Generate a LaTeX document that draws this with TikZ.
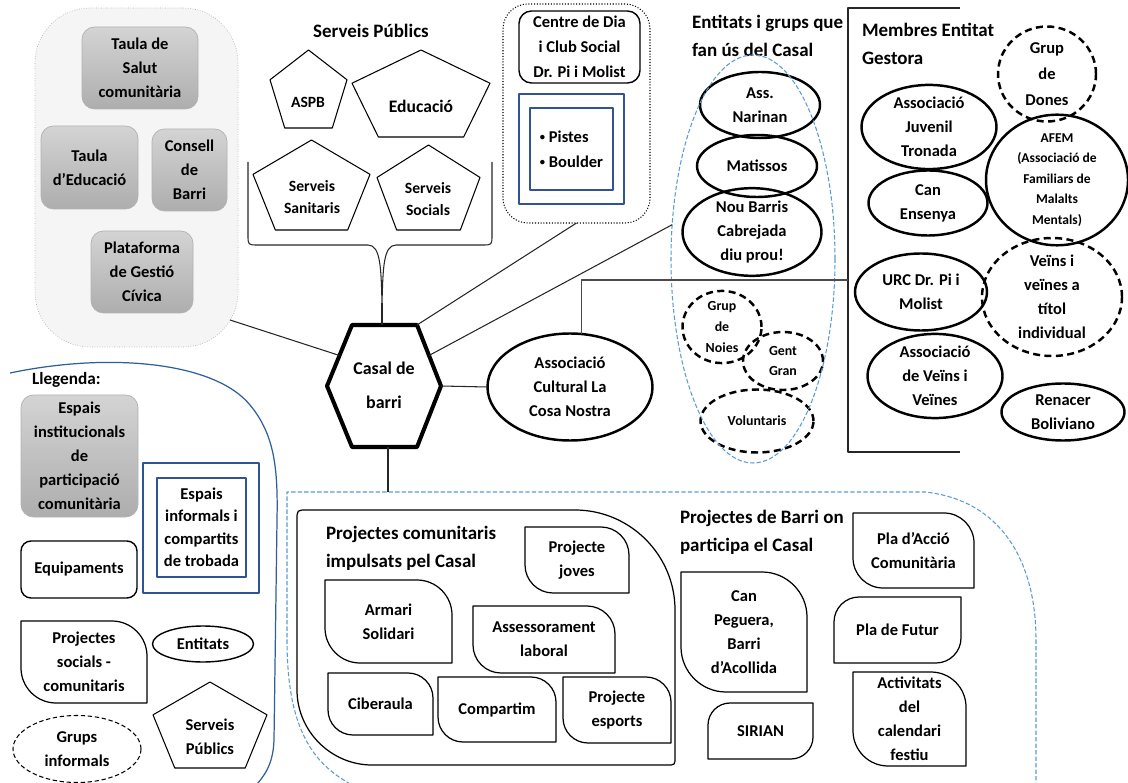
\documentclass[tikz,border=0pt]{standalone}
\usepackage{fontspec}
\setmainfont{Carlito}
\usetikzlibrary{shapes.geometric,calc}
\def\pxu{0.02cm}
\def\bodyfont{\bfseries\fontsize{9.4}{13.6}\selectfont}
\def\titlefont{\bfseries\fontsize{10.8}{16}\selectfont}
\def\smallfont{\bfseries\fontsize{7.9}{11.9}\selectfont}
\newcommand{\smallbullet}{{\fontsize{6}{6}\selectfont\raisebox{0.25ex}{•}}}
\definecolor{navy}{RGB}{47,84,150}
\definecolor{legendblue}{RGB}{46,95,154}
\definecolor{dashblue}{RGB}{91,155,213}

% box with rounded top right and bottom left corners
\newcommand{\leafA}[2]{%
  \draw[leafline] (#1.north west) -- ($(#1.north east)+(-#2,0)$)
    .. controls ($(#1.north east)+(-0.45*#2,0)$) and ($(#1.north east)+(0,0.45*#2)$) .. ($(#1.north east)+(0,#2)$)
    -- (#1.south east) -- ($(#1.south west)+(#2,0)$)
    .. controls ($(#1.south west)+(0.45*#2,0)$) and ($(#1.south west)+(0,-0.45*#2)$) .. ($(#1.south west)+(0,-#2)$)
    -- cycle;}
% box with rounded top left and bottom right corners
\newcommand{\leafB}[2]{%
  \draw[leafline] (#1.north east) -- ($(#1.south east)+(0,-#2)$)
    .. controls ($(#1.south east)+(0,-0.45*#2)$) and ($(#1.south east)+(-0.45*#2,0)$) .. ($(#1.south east)+(-#2,0)$)
    -- (#1.south west) -- ($(#1.north west)+(0,#2)$)
    .. controls ($(#1.north west)+(0,0.45*#2)$) and ($(#1.north west)+(0.45*#2,0)$) .. ($(#1.north west)+(#2,0)$)
    -- cycle;}
% pentagon: centre x, centre y, width, height
\newcommand{\drawpent}[4]{%
  \draw[pentline] (#1,#2-#4/2) -- (#1+#3/2,#2-0.118*#4) -- (#1+0.309*#3,#2+#4/2)
    -- (#1-0.309*#3,#2+#4/2) -- (#1-#3/2,#2-0.118*#4) -- cycle;}

\begin{document}
\begin{tikzpicture}[x=\pxu, y=-\pxu, line join=round]
            \tikzstyle{every node}=[font=\bodyfont, align=center, inner sep=0pt, outer sep=0pt]
            \tikzstyle{link}=[draw=black!85, line width=0.6pt]
            \tikzstyle{greybox}=[draw=black!30, rounded corners=0.25cm, top color=black!17, bottom color=black!32]
            \tikzstyle{entitat}=[ellipse, draw, line width=1.4pt]
            \tikzstyle{grup}=[entitat, dash pattern=on 4pt off 2.5pt]
            \tikzstyle{leaf}=[rectangle]
            \tikzstyle{leafline}=[draw, line width=0.7pt]
            \tikzstyle{pentline}=[draw, line width=0.6pt]
            \tikzstyle{headline}=[font=\titlefont, align=left, anchor=west]
            \tikzstyle{bluesq}=[draw=navy, line width=0.8pt]

            \useasboundingbox (0,0) rectangle (1128,783);

            % Draw the background zones
            \draw[dashblue, line width=0.6pt, dash pattern=on 2.5pt off 1.2pt]
                (362,790) .. controls (320,770) and (287,740) .. (287,640) -- (287,492)
                -- (925,492) .. controls (1000,500) and (1036,560) .. (1036,640) -- (1036,790);
            \draw[legendblue, line width=0.7pt]
                (10,373) .. controls (110,352) and (215,362) .. (250,405)
                .. controls (275,435) and (278,470) .. (277,520) -- (274,740)
                .. controls (273,768) and (262,778) .. (252,790);
            \node[draw=black!30, densely dotted, fill=black!4, rounded corners=1.1cm,
                minimum width=203*\pxu, minimum height=339*\pxu] (espais) at (136.5,177.5) {};

            % Institutional spaces
            \foreach \name/\cx/\cy/\w/\h/\txt in {salut/140/68/116/82/{Taula de\\Salut\\comunitària},
                educ/89.5/167.5/97/83/{Taula\\d’Educació}, consell/189.5/170/75/82/{Consell\\de\\Barri},
                plataf/142/272/102/82/{Plataforma\\de Gestió\\Cívica}}
                \node[greybox, minimum width=\w*\pxu, minimum height=\h*\pxu] (\name) at (\cx,\cy) {\txt};

            % Public services
            \node[font=\titlefont] (serveisTitle) at (371,31) {Serveis Públics};
            \drawpent{308.5}{89}{77}{78}
            \node[font=\bfseries\fontsize{8.9}{13}\selectfont] (aspb) at (308,102) {ASPB};
            \drawpent{421}{93.5}{138}{87}
            \node[font=\bfseries\fontsize{10}{13.6}\selectfont] (educacio) at (421,106) {Educació};
            \drawpent{311.5}{185}{117}{90}
            \node[font=\bfseries\fontsize{8.9}{13}\selectfont] (sanitaris) at (312,197) {Serveis\\Sanitaris};
            \drawpent{428.5}{187.5}{103}{85}
            \node[font=\bfseries\fontsize{8.9}{13}\selectfont] (socials) at (428,199) {Serveis\\Socials};
            \coordinate (braceTip) at (382,303);
            \draw[link] (248,162) -- (248,235) .. controls (248,245) .. (258,245) -- (368,245)
                .. controls (381,245) and (381,270) .. (braceTip)
                .. controls (383,270) and (383,245) .. (396,245) -- (482,245)
                .. controls (492,245) .. (492,235) -- (492,162);

            % Day centre
            \node[draw, densely dotted, line width=0.6pt, rounded corners=0.5cm,
                minimum width=147*\pxu, minimum height=219*\pxu] (centre) at (576.5,113.5) {};
            \node[draw, line width=0.8pt, rounded corners=0.25cm, minimum width=121*\pxu, minimum height=72*\pxu,
                font=\bfseries\fontsize{9.4}{14.2}\selectfont] (centreDia) at (579.5,47) {Centre de Dia\\i Club Social\\Dr. Pi i Molist};
            \node[bluesq, minimum width=105*\pxu, minimum height=110*\pxu] (pistesOut) at (571.5,149) {};
            \node[bluesq, minimum width=83*\pxu, minimum height=82*\pxu, align=left,
                font=\bfseries\fontsize{9.4}{14.2}\selectfont] (pistes) at (571.5,149) {\smallbullet\ Pistes\\\smallbullet\ Boulder};

            % Groups using the Casal
            \node[headline] (entitatsTitle) at (692,36) {Entitats i grups que\\fan ús del Casal};
            \node[entitat, minimum width=120*\pxu, minimum height=66*\pxu] (narinan) at (760,105) {Ass.\\Narinan};
            \node[entitat, minimum width=120*\pxu, minimum height=62*\pxu] (matissos) at (757,166) {Matissos};
            \node[entitat, minimum width=139*\pxu, minimum height=83*\pxu] (noubarris) at (752,232) {Nou Barris\\Cabrejada\\diu prou!};
            \node[grup, font=\smallfont, minimum width=79*\pxu, minimum height=69*\pxu] (noies) at (722,327) {Grup\\de\\Noies};
            \node[grup, font=\smallfont, minimum width=80*\pxu, minimum height=58*\pxu] (gentgran) at (783,361) {Gent\\Gran};
            \node[grup, font=\smallfont, minimum width=113*\pxu, minimum height=63*\pxu] (voluntaris) at (757,421) {Voluntaris};
            \node[ellipse, draw=dashblue, line width=0.6pt, dash pattern=on 2.5pt off 1.2pt,
                minimum width=164*\pxu, minimum height=408*\pxu] (entitatsZone) at (753,259) {};

            % Members of the managing entity
            \draw[link] (960,8) -- (848,8) -- (848,452) -- (960,452);
            \coordinate (membresBar) at (848,280);
            \node[headline] (membresTitle) at (862,44) {Membres Entitat\\Gestora};
            \node[grup, font=\bfseries\fontsize{9.4}{14.7}\selectfont, minimum width=98*\pxu, minimum height=95*\pxu] (dones) at (1047,74) {Grup\\de\\Dones};
            \node[entitat, minimum width=135*\pxu, minimum height=79*\pxu] (tronada) at (929,127) {Associació\\Juvenil\\Tronada};
            \node[entitat, font=\bfseries\fontsize{7.7}{11.6}\selectfont, minimum width=142*\pxu, minimum height=118*\pxu] (afem) at (1057,180) {AFEM\\(Associació de\\Familiars de\\Malalts\\Mentals)};
            \node[entitat, minimum width=119*\pxu, minimum height=65*\pxu] (ensenya) at (928,203) {Can\\Ensenya};
            \node[entitat, minimum width=132*\pxu, minimum height=77*\pxu] (urc) at (921,292) {URC Dr. Pi i\\Molist};
            \node[grup, minimum width=140*\pxu, minimum height=118*\pxu] (veins) at (1052,297) {Veïns i\\veïnes a\\títol\\individual};
            \node[entitat, minimum width=135*\pxu, minimum height=70*\pxu] (avv) at (935,376) {Associació\\de Veïns i\\Veïnes};
            \node[entitat, minimum width=123*\pxu, minimum height=57*\pxu] (renacer) at (1063,412) {Renacer\\Boliviano};

            % Casal de barri and its links
            \coordinate (hexW) at (327,386);
            \coordinate (hexNW) at (352,325);
            \coordinate (hexNE) at (417,325);
            \coordinate (hexE) at (441,386);
            \coordinate (hexSE) at (417,447);
            \coordinate (hexSW) at (352,447);
            \coordinate (hexN) at (382,325);
            \coordinate (hexS) at (388,447);
            \coordinate (hexUL) at ($(hexNW)!0.5!(hexW)$);
            \coordinate (hexUR) at ($(hexNE)!0.5!(hexE)$);
            \draw[line width=2.3pt, fill=white] (hexW) -- (hexNW) -- (hexNE) -- (hexE) -- (hexSE) -- (hexSW) -- cycle;
            \node[font=\bfseries\fontsize{10.2}{19.3}\selectfont] (casal) at (384,385) {Casal de\\barri};
            \node[entitat, minimum width=165*\pxu, minimum height=107*\pxu] (cultural) at (570,387) {Associació\\Cultural La\\Cosa Nostra};
            \coordinate (espaisEnd) at (230,320);
            \coordinate (projTop) at (388,492);
            \draw[link] (espaisEnd) -- (hexUL);
            \draw[link] (hexN) -- (braceTip);
            \draw[link] (hexNE) -- (centre.south);
            \draw[link] (hexUR) -- (entitatsZone.157);
            \draw[link] (hexE) -- (cultural.west);
            \draw[link] (hexS) -- (projTop);
            \draw[link, draw=black!70] (cultural.78) |- (membresBar);

            % Community projects
            \draw[line width=0.7pt] (297,520) .. controls (297,510) .. (307,510) -- (575,510)
                .. controls (630,510) and (675,555) .. (675,610) -- (675,757)
                .. controls (675,765) .. (667,765) -- (372,765)
                .. controls (331,765) and (297,731) .. (297,690) -- cycle;
            \node[headline] (comunitarisTitle) at (326,548) {Projectes comunitaris\\impulsats pel Casal};
            \node[headline] (barriTitle) at (680,532) {Projectes de Barri on\\participa el Casal};
            \foreach \name/\cx/\cy/\w/\h/\r/\txt in {joves/577/560/104/66/28/{Projecte\\joves},
                armari/388.5/621.5/127/83/35/{Armari\\Solidari}, assess/544/639.5/142/67/28/{Assessorament\\laboral},
                ciber/380.5/704/105/62/25/{Ciberaula}, compartim/497/709.5/118/65/25/{Compartim},
                esports/617/710/108/66/25/{Projecte\\esports}, placcio/913.5/550.5/121/75/30/{Pla d’Acció\\Comunitària},
                peguera/744/632/126/120/45/{Can\\Peguera,\\Barri\\d’Acollida},
                activitats/909.5/719/113/94/35/{Activitats\\del\\calendari\\festiu},
                socialsLeg/84/662/126/82/35/{Projectes\\socials -\\comunitaris}}
            {
                \node[leaf, minimum width=\w*\pxu, minimum height=\h*\pxu] (\name) at (\cx,\cy) {\txt};
                \leafA{\name}{\r}
            }
            \foreach \name/\cx/\cy/\w/\h/\r/\txt in {plafutur/897.5/630/127/66/25/{Pla de Futur},
                sirian/760.5/731/105/56/22/{SIRIAN}}
            {
                \node[leaf, minimum width=\w*\pxu, minimum height=\h*\pxu] (\name) at (\cx,\cy) {\txt};
                \leafB{\name}{\r}
            }

            % Legend
            \node[headline, font=\bfseries\fontsize{9.8}{13}\selectfont] (llegenda) at (32,380) {Llegenda:};
            \node[greybox, minimum width=117*\pxu, minimum height=122*\pxu] (legInst) at (79.5,456) {Espais\\institucionals\\de\\participació\\comunitària};
            \node[bluesq, minimum width=116*\pxu, minimum height=130*\pxu] (legInfOut) at (201,528) {};
            \node[bluesq, minimum width=89*\pxu, minimum height=99*\pxu, font=\bfseries\fontsize{9.4}{12.8}\selectfont] (legInf) at (201.5,527.5) {Espais\\informals i\\compartits\\de trobada};
            \node[draw, line width=0.8pt, rounded corners=0.2cm, minimum width=116*\pxu, minimum height=57*\pxu] (legEquip) at (79,569.5) {Equipaments};
            \node[ellipse, draw, line width=0.8pt, minimum width=101*\pxu, minimum height=36*\pxu] (legEnt) at (203,644) {Entitats};
            \node[ellipse, draw, line width=0.6pt, dash pattern=on 2.5pt off 1.5pt, minimum width=128*\pxu, minimum height=67*\pxu] (legGrups) at (77,749) {Grups\\informals};
            \drawpent{210}{725}{114}{86}
            \node (legServ) at (210,737) {Serveis\\Públics};
\end{tikzpicture}
\end{document}
